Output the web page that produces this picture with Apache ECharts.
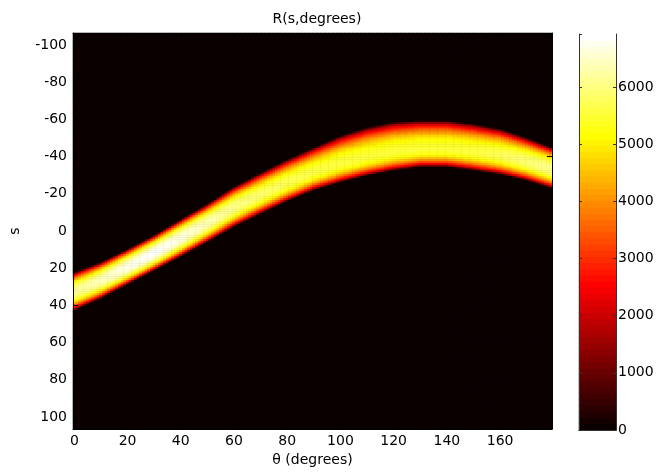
<!DOCTYPE html>
<html><head><meta charset="utf-8">
<script src="https://cdn.jsdelivr.net/npm/echarts@6/dist/echarts.min.js"></script>
<style>html,body{margin:0;padding:0;background:#fff;}#c{width:668px;height:475px;}</style>
</head><body><div id="c"></div>
<script>
// ---- data ----
const thetaCategories = []; for (let t = 0; t <= 179; t++) thetaCategories.push(t);      // θ bins (degrees)
const sCategories = []; for (let s = -106; s <= 106; s++) sCategories.push(s);           // s bins
const knotTheta   = [0, 10, 20, 30, 40, 50, 60, 70, 80, 90, 100, 110, 120, 130, 140, 150, 160, 170, 179];
const bandTop     = [22.5, 17, 10, 2.5, -6, -14.3, -23.5, -31, -38.2, -44.7, -51, -55.6, -58.4, -59.3, -59.3, -57.5, -54.8, -50, -45];
const bandBottom  = [43, 36.5, 29, 21.5, 14, 6.2, -2, -9, -15.8, -21.7, -26, -29.6, -32.4, -34.3, -34.3, -32.5, -30.3, -27, -23];
const bandPeak    = [6150, 6450, 6750, 6920, 6700, 6400, 6100, 5900, 5750, 5650, 5600, 5550, 5550, 5550, 5550, 5600, 5750, 5950, 6100];
const peakPosition= [0.5, 0.5, 0.5, 0.5, 0.5, 0.5, 0.52, 0.54, 0.56, 0.58, 0.6, 0.62, 0.62, 0.62, 0.62, 0.6, 0.58, 0.56, 0.53];
const edgeRamp    = [0, 0.3, 0.48, 0.62, 0.73, 0.82, 0.89, 0.94, 0.97, 0.99, 1]; // fraction of peak vs distance edge→peak
const xTickLabels = [0, 20, 40, 60, 80, 100, 120, 140, 160];
const yTickLabels = [-100, -80, -60, -40, -20, 0, 20, 40, 60, 80, 100];
const colorbarTicks = [0, 1000, 2000, 3000, 4000, 5000, 6000];
const colorMax = 6925;
const nColors = 64;

// ---- build heatmap table ----
function lerp(a, b, t) { return a + (b - a) * t; }
function ramp(d) {
  const x = Math.max(0, Math.min(1, d)) * (edgeRamp.length - 1);
  const i = Math.min(edgeRamp.length - 2, Math.floor(x));
  return lerp(edgeRamp[i], edgeRamp[i + 1], x - i);
}
const heatData = [];
thetaCategories.forEach((th, xi) => {
  let k = 0;
  while (k < knotTheta.length - 2 && th > knotTheta[k + 1]) k++;
  const t = (th - knotTheta[k]) / (knotTheta[k + 1] - knotTheta[k]);
  const top = lerp(bandTop[k], bandTop[k + 1], t);
  const bot = lerp(bandBottom[k], bandBottom[k + 1], t);
  const pk = lerp(bandPeak[k], bandPeak[k + 1], t);
  const pp = lerp(peakPosition[k], peakPosition[k + 1], t);
  const ps = top + pp * (bot - top);
  sCategories.forEach((s, yi) => {
    let v = 0;
    if (s > top && s < bot) {
      const d = s <= ps ? (s - top) / (ps - top) : (bot - s) / (bot - ps);
      v = pk * ramp(d);
    }
    heatData.push([xi, yi, Math.round(v)]);
  });
});

// MATLAB "hot" colormap, 64 entries
function hotColor(i) { // i = 1..64
  const n = Math.floor(3 / 8 * nColors);
  const r = i <= n ? i / n : 1;
  const g = i <= n ? 0 : (i <= 2 * n ? (i - n) / n : 1);
  const b = i <= 2 * n ? 0 : (i - 2 * n) / (nColors - 2 * n);
  return 'rgb(' + Math.round(r * 255) + ',' + Math.round(g * 255) + ',' + Math.round(b * 255) + ')';
}
const pieces = [];
for (let i = 0; i < nColors; i++) {
  pieces.push({ gte: i * colorMax / nColors, lt: (i + 1) * colorMax / nColors, color: hotColor(i + 1) });
}
pieces[nColors - 1].lt = colorMax * 2;
const cbCategories = []; for (let i = 0; i < nColors; i++) cbCategories.push(i);
const cbData = cbCategories.map(i => [0, i, (i + 0.5) * colorMax / nColors]);
const cbBackground = { type: 'linear', x: 0, y: 1, x2: 0, y2: 0, colorStops: [
  { offset: 0, color: hotColor(1) }, { offset: 0.375, color: hotColor(24) },
  { offset: 0.75, color: hotColor(48) }, { offset: 1, color: hotColor(64) } ] };

const FONT = 'DejaVu Sans';
const txt = { fontFamily: FONT, fontSize: 14, color: '#000' };
const onTick = (list) => (idx, val) => list.indexOf(Number(val)) >= 0;

const chart = echarts.init(document.getElementById('c'), null, { renderer: 'canvas' });
chart.setOption({
  animation: false,
  backgroundColor: '#fff',
  title: { text: 'R(s,degrees)', left: 312, top: 7, textAlign: 'center',
    textStyle: { fontFamily: FONT, fontSize: 14, fontWeight: 'normal', color: '#000' } },
  grid: [
    { left: 73, top: 33, width: 479, height: 396, show: true, backgroundColor: hotColor(1), borderWidth: 0 },
    { left: 579, top: 34, width: 37, height: 396, show: true, backgroundColor: cbBackground, borderWidth: 0 }
  ],
  xAxis: [
    { gridIndex: 0, type: 'category', data: thetaCategories, position: 'bottom', z: 5,
      name: 'θ (degrees)', nameLocation: 'middle', nameGap: 24, nameTextStyle: txt,
      axisLine: { show: true, lineStyle: { color: '#000', width: 1 } },
      axisTick: { show: true, inside: true, length: 5, alignWithLabel: true, interval: onTick(xTickLabels), lineStyle: { color: '#000' } },
      axisLabel: { interval: onTick(xTickLabels), margin: 5, ...txt },
      splitLine: { show: false } },
    { gridIndex: 0, type: 'category', data: thetaCategories, position: 'top', z: 5,
      axisLine: { show: true, lineStyle: { color: '#000', width: 1 } },
      axisTick: { show: true, inside: true, length: 5, alignWithLabel: true, interval: onTick(xTickLabels), lineStyle: { color: '#000' } },
      axisLabel: { show: false } },
    { gridIndex: 1, type: 'category', data: ['c'], position: 'bottom', z: 5,
      axisLine: { show: true, lineStyle: { color: '#333', width: 1 } }, axisTick: { show: false }, axisLabel: { show: false } },
    { gridIndex: 1, type: 'category', data: ['c'], position: 'top', z: 5,
      axisLine: { show: true, lineStyle: { color: '#333', width: 1 } }, axisTick: { show: false }, axisLabel: { show: false } }
  ],
  yAxis: [
    { gridIndex: 0, type: 'category', data: sCategories, inverse: true, position: 'left', z: 5,
      name: 's', nameLocation: 'middle', nameGap: 51, nameTextStyle: txt,
      axisLine: { show: true, lineStyle: { color: '#000', width: 1 } },
      axisTick: { show: true, inside: true, length: 5, alignWithLabel: true, interval: onTick(yTickLabels), lineStyle: { color: '#000' } },
      axisLabel: { interval: onTick(yTickLabels), margin: 6, ...txt },
      splitLine: { show: false } },
    { gridIndex: 0, type: 'category', data: sCategories, inverse: true, position: 'right', z: 5,
      axisLine: { show: true, lineStyle: { color: '#000', width: 1 } },
      axisTick: { show: true, inside: true, length: 5, alignWithLabel: true, interval: onTick(yTickLabels), lineStyle: { color: '#000' } },
      axisLabel: { show: false } },
    { gridIndex: 1, type: 'category', data: cbCategories, show: false },
    { gridIndex: 1, type: 'value', min: 0, max: colorMax, interval: 1000, position: 'right', z: 5,
      axisLine: { show: true, lineStyle: { color: '#333', width: 1 } },
      axisTick: { show: true, inside: true, length: 3, lineStyle: { color: '#333' } },
      axisLabel: { margin: 2, showMaxLabel: false, formatter: v => (colorbarTicks.indexOf(v) >= 0 ? String(v) : ''), ...txt },
      splitLine: { show: false } },
    { gridIndex: 1, type: 'value', min: 0, max: colorMax, interval: 1000, position: 'left', z: 5,
      axisLine: { show: true, lineStyle: { color: '#333', width: 1 } },
      axisTick: { show: true, inside: true, length: 3, lineStyle: { color: '#333' } },
      axisLabel: { show: false }, splitLine: { show: false } }
  ],
  visualMap: {
    type: 'piecewise', show: false, dimension: 2, seriesIndex: [0, 1], pieces: pieces
  },
  series: [
    { type: 'heatmap', xAxisIndex: 0, yAxisIndex: 0, data: heatData, progressive: 0,
      itemStyle: { borderWidth: 0 }, emphasis: { disabled: true } },
    { type: 'heatmap', xAxisIndex: 2, yAxisIndex: 2, data: cbData, progressive: 0,
      itemStyle: { borderWidth: 0 }, emphasis: { disabled: true } }
  ]
});
</script></body></html>
